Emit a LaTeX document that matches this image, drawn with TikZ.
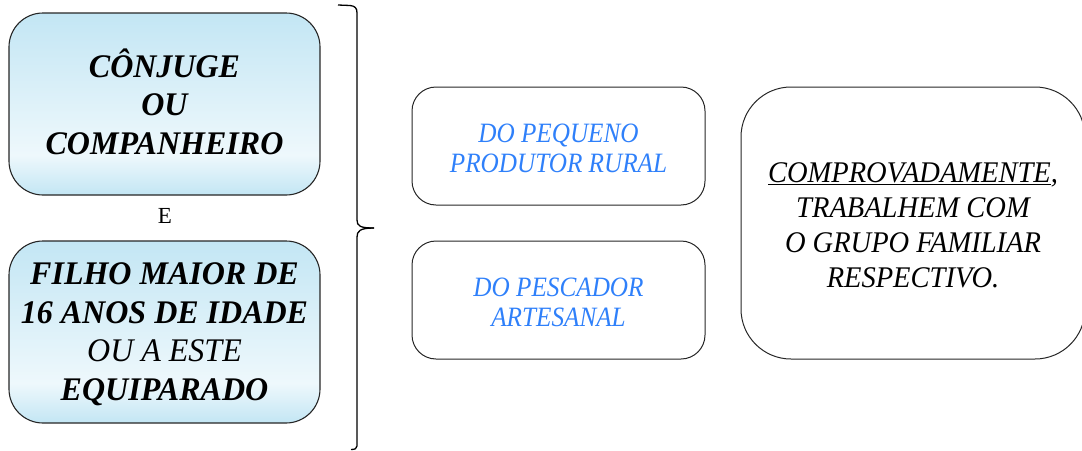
\documentclass[tikz,border=0pt]{standalone}
\usepackage{fontspec}
\setmainfont{Liberation Serif}
\newfontfamily\lfont[FakeStretch=0.97]{Liberation Serif}
\newfontfamily\mfont[FakeStretch=0.9]{Liberation Serif}
\newfontfamily\rfont[FakeStretch=0.95]{Liberation Serif}
\definecolor{cblue}{RGB}{195,230,244}
\definecolor{cwhite}{RGB}{238,248,252}
\definecolor{tblue}{RGB}{47,128,250}
\pgfdeclareverticalshading{boxshade}{100bp}{color(0bp)=(cblue); color(25bp)=(cblue); color(36bp)=(cwhite); color(75bp)=(cblue); color(100bp)=(cblue)}
\begin{document}
\begin{tikzpicture}[x=1pt,y=-1pt,
  leftbox/.style={draw=black!85, line width=1.1pt, rounded corners=34pt, shading=boxshade,
    minimum width=311pt, minimum height=182pt, inner sep=0pt},
  lefttext/.style={font=\lfont\bfseries\itshape\fontsize{33}{38.5}\selectfont, align=center, inner sep=0pt, text=black},
  midbox/.style={draw=black!85, line width=1pt, rounded corners=24pt,
    minimum width=293pt, minimum height=118pt, inner sep=0pt},
  midtext/.style={font=\mfont\itshape\fontsize{28}{30}\selectfont, text=tblue, align=center, inner sep=0pt},
  rightbox/.style={draw=black!85, line width=1pt, rounded corners=50pt,
    minimum width=344pt, minimum height=272pt, inner sep=0pt},
  righttext/.style={font=\rfont\itshape\fontsize{30}{35}\selectfont, align=center, inner sep=0pt, text=black},
  bracestyle/.style={line width=1.3pt, black}]
\useasboundingbox (0,0) rectangle (1082,450);
\clip (0,0) rectangle (1082,450);
\node[leftbox] (conj) at (164.5,104) {};
\node[lefttext] (conjt) at (164.5,101.5) {CÔNJUGE\\OU\\COMPANHEIRO};
\node[inner sep=0pt, anchor=base] (e) at (165,223) {\fontsize{23}{24}\selectfont E};
\node[leftbox] (filho) at (164.5,332) {};
\node[lefttext] (filhot) at (164.5,334) {FILHO MAIOR DE\\16 ANOS DE IDADE\\\textmd{OU A ESTE}\\EQUIPARADO};
\node[midbox] (prod) at (558.5,146) {};
\node[midtext] (prodt) at (558.5,148) {DO PEQUENO\\PRODUTOR RURAL};
\node[midbox] (pesc) at (558.5,300) {};
\node[midtext] (psect) at (558.5,302) {DO PESCADOR\\ARTESANAL};
\node[rightbox] (comp) at (913,223) {};
\node[righttext] (compt) at (913,225.5) {\underline{COMPROVADAMENTE},\\TRABALHEM COM\\O GRUPO FAMILIAR\\RESPECTIVO.};
\draw[bracestyle] (338,5) -- (350,5.5) .. controls (355,6) and (357,8) .. (357,13) -- (357,220) .. controls (357,226) and (360,228) .. (374,228);
\draw[bracestyle] (374,228) .. controls (360,228) and (357,231) .. (357,237) -- (357,446) .. controls (357,448.5) and (355,449.5) .. (351,449.5);
\end{tikzpicture}
\end{document}
